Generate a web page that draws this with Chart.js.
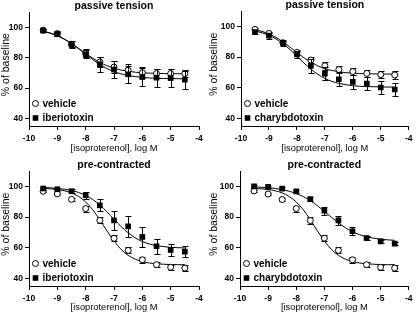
<!DOCTYPE html>
<html><head><meta charset="utf-8">
<script src="https://cdn.jsdelivr.net/npm/chart.js@4/dist/chart.umd.min.js"></script>
<style>
html,body{margin:0;padding:0;background:#fff;}
#wrap{position:relative;width:416px;height:313px;background:#fff;overflow:hidden}
canvas{position:absolute}
</style></head><body>
<div id="wrap">
<canvas id="c1" width="208" height="156" style="left:0px;top:0px"></canvas>
<canvas id="c2" width="208" height="156" style="left:208px;top:0px"></canvas>
<canvas id="c3" width="208" height="157" style="left:0px;top:156px"></canvas>
<canvas id="c4" width="208" height="157" style="left:208px;top:156px"></canvas>
</div>
<script>
// ---- data ----
const doseLogM = [-9.5, -9, -8.5, -8, -7.5, -7, -6.5, -6, -5.5, -5, -4.5];
const fitLogM = [-9.5, -9.25, -9, -8.75, -8.5, -8.25, -8, -7.75, -7.5, -7.25, -7, -6.75, -6.5, -6.25, -6, -5.75, -5.5, -5.25, -5, -4.75, -4.5];
const xTickValues = [-10, -9, -8, -7, -6, -5, -4];
const yTickValues = [40, 60, 80, 100];
const panelTitles = ['passive tension', 'passive tension', 'pre-contracted', 'pre-contracted'];
const vehicleLabel = 'vehicle';
const toxinLabels = ['iberiotoxin', 'charybdotoxin', 'iberiotoxin', 'charybdotoxin'];
const xAxisTitle = '[isoproterenol], log M';
const yAxisTitle = '% of baseline';

// panel 1: passive tension, iberiotoxin
const p1Vehicle    = [98.0, 95.8, 88.8, 83.0, 77.1, 73.8, 71.7, 70.1, 69.5, 69.5, 69.5];
const p1VehicleErr = [1, 1.5, 2, 2.5, 3, 4, 4, 3.5, 3, 3, 2.5];
const p1Toxin      = [97.8, 95.6, 88.6, 82.2, 75.6, 72.1, 69.0, 67.2, 66.8, 66.5, 65.5];
const p1ToxinErr   = [1, 1.5, 2, 2.5, 5, 5.5, 5.5, 6, 6, 6, 6];
const p1VehicleFit = [97.3, 96.0, 94.3, 92.0, 89.2, 86.0, 82.7, 79.6, 76.8, 74.7, 73.0, 71.8, 71.0, 70.4, 70.0, 69.8, 69.6, 69.5, 69.4, 69.4, 69.35];
const p1ToxinFit   = [97.4, 96.2, 94.5, 92.2, 89.3, 85.9, 82.3, 78.7, 75.5, 72.8, 70.8, 69.3, 68.2, 67.5, 67.0, 66.6, 66.4, 66.3, 66.2, 66.1, 66.1];

// panel 2: passive tension, charybdotoxin
const p2Vehicle    = [98.0, 95.4, 89.3, 83.0, 78.0, 74.3, 71.8, 70.5, 69.3, 68.5, 68.3];
const p2VehicleErr = [1, 1, 1.2, 1.5, 2, 2.5, 2.5, 2.5, 2.5, 2.5, 2.5];
const p2Toxin      = [96.3, 93.9, 89.3, 81.7, 74.2, 69.2, 65.5, 63.8, 62.7, 60.1, 58.8];
const p2ToxinErr   = [1.5, 2, 2, 2.5, 4.5, 4.5, 4.5, 4.5, 4.5, 4.5, 4.5];
const p2VehicleFit = [97.8, 96.7, 95.0, 92.8, 89.9, 86.5, 83.0, 79.5, 76.6, 74.2, 72.4, 71.2, 70.4, 69.8, 69.4, 69.2, 69.1, 69.0, 68.9, 68.9, 68.85];
const p2ToxinFit   = [96.9, 95.8, 94.1, 91.8, 88.7, 84.9, 80.5, 76.1, 72.1, 68.7, 66.0, 64.1, 62.8, 61.9, 61.3, 60.9, 60.7, 60.6, 60.5, 60.4, 60.4];

// panel 3: pre-contracted, iberiotoxin
const p3Vehicle    = [96.8, 95.1, 91.5, 85.5, 77.8, 66.1, 58.2, 52.1, 48.9, 47.2, 46.7];
const p3VehicleErr = [0.8, 0.8, 0.8, 2, 2, 2, 2, 1.8, 1.5, 1.8, 1.8];
const p3Toxin      = [98.6, 98.1, 96.8, 94.2, 87.6, 77.8, 73.9, 67.0, 60.9, 58.5, 57.4];
const p3ToxinErr   = [1, 1, 1.2, 2.2, 4, 6, 6.7, 6.5, 4.9, 3.9, 3.8];
const p3VehicleFit = [98.6, 98.4, 97.9, 97.1, 95.7, 93.4, 89.8, 84.7, 78.2, 71.0, 64.3, 58.9, 55.0, 52.5, 50.9, 50.0, 49.5, 49.2, 49.0, 48.9, 48.9];
const p3ToxinFit   = [99.2, 99.0, 98.6, 98.1, 97.3, 96.0, 94.1, 91.4, 87.8, 83.4, 78.5, 73.8, 69.7, 66.4, 64.0, 62.4, 61.3, 60.7, 60.2, 60.0, 59.8];

// panel 4: pre-contracted, charybdotoxin
const p4Vehicle    = [97.0, 95.0, 91.4, 85.5, 77.7, 66.2, 58.2, 52.1, 48.9, 47.2, 46.7];
const p4VehicleErr = [0.8, 0.8, 0.8, 2, 2, 2, 2, 1.8, 1.5, 1.8, 1.8];
const p4Toxin      = [100.0, 99.6, 98.5, 96.7, 91.7, 84.1, 77.8, 70.7, 66.3, 64.1, 62.6];
const p4ToxinErr   = [0.8, 0.8, 0.8, 1, 1.5, 2.5, 3, 2.5, 1.5, 1, 1];
const p4VehicleFit = [98.6, 98.4, 97.9, 97.1, 95.7, 93.4, 89.8, 84.7, 78.2, 71.0, 64.3, 58.9, 55.0, 52.5, 50.9, 50.0, 49.5, 49.2, 49.0, 48.9, 48.9];
const p4ToxinFit   = [99.6, 99.4, 99.1, 98.6, 97.9, 96.8, 95.3, 93.3, 90.6, 87.4, 83.6, 79.8, 76.2, 73.0, 70.4, 68.5, 67.1, 66.2, 65.5, 65.1, 64.8];

// ---- rendering ----
const FONT = "'Liberation Sans', Arial, Helvetica, sans-serif";
const pts = (xs, ys) => xs.map((x, i) => ({x: x, y: ys[i]}));

const errorBarPlugin = {
  id: 'errorBars',
  beforeDatasetDraw(chart, args) {
    const ds = chart.data.datasets[args.index];
    if (!ds.errorBars) return;
    const ctx = chart.ctx, xs = chart.scales.x, ys = chart.scales.y;
    ctx.save();
    ctx.strokeStyle = '#000';
    ctx.lineWidth = 1;
    ds.data.forEach((p, i) => {
      const e = ds.errorBars[i];
      const px = Math.round(xs.getPixelForValue(p.x)) + 0.5;
      const yt = Math.round(ys.getPixelForValue(p.y + e)) + 0.5;
      const yb = Math.round(ys.getPixelForValue(p.y - e)) + 0.5;
      ctx.beginPath();
      ctx.moveTo(px, yt); ctx.lineTo(px, yb);
      ctx.moveTo(px - 3, yt); ctx.lineTo(px + 3, yt);
      ctx.moveTo(px - 3, yb); ctx.lineTo(px + 3, yb);
      ctx.stroke();
    });
    ctx.restore();
  }
};

const insideLegendPlugin = {
  id: 'insideLegend',
  afterDraw(chart, args, opts) {
    const ctx = chart.ctx, a = chart.chartArea;
    const mx = a.left + 6.5;
    const rows = [a.bottom - 22.5, a.bottom - 8];
    ctx.save();
    ctx.font = 'bold 10px ' + FONT;
    ctx.textBaseline = 'middle';
    // open circle
    ctx.beginPath();
    ctx.arc(mx, rows[0], 3, 0, Math.PI * 2);
    ctx.fillStyle = '#fff'; ctx.fill();
    ctx.strokeStyle = '#000'; ctx.lineWidth = 1; ctx.stroke();
    // filled square
    ctx.fillStyle = '#000';
    ctx.fillRect(mx - 2.8, rows[1] - 2.8, 5.6, 5.6);
    ctx.fillText(opts.labels[0], mx + 7, rows[0] + 0.5);
    ctx.fillText(opts.labels[1], mx + 7, rows[1] + 0.5);
    ctx.restore();
  }
};

const panels = [
  {id: 'c1', v: p1Vehicle, ve: p1VehicleErr, t: p1Toxin, te: p1ToxinErr, vf: p1VehicleFit, tf: p1ToxinFit,
   pad: {left: 0, right: 9, top: 0, bottom: 0}, yw: 29, xh: 30, xtb: 1.5},
  {id: 'c2', v: p2Vehicle, ve: p2VehicleErr, t: p2Toxin, te: p2ToxinErr, vf: p2VehicleFit, tf: p2ToxinFit,
   pad: {left: 0, right: 4, top: -1, bottom: 0}, yw: 33, xh: 30, xtb: 1.5},
  {id: 'c3', v: p3Vehicle, ve: p3VehicleErr, t: p3Toxin, te: p3ToxinErr, vf: p3VehicleFit, tf: p3ToxinFit,
   pad: {left: 0, right: 9, top: 3, bottom: 0}, yw: 29, xh: 27, xtb: 0},
  {id: 'c4', v: p4Vehicle, ve: p4VehicleErr, t: p4Toxin, te: p4ToxinErr, vf: p4VehicleFit, tf: p4ToxinFit,
   pad: {left: 0, right: 5, top: 3, bottom: 0}, yw: 32, xh: 27, xtb: 0}
];

panels.forEach((p, k) => {
  new Chart(document.getElementById(p.id), {
    type: 'scatter',
    data: {
      datasets: [
        {label: vehicleLabel + ' fit', data: pts(fitLogM, p.vf), showLine: true, borderColor: '#000', borderWidth: 1,
         pointRadius: 0, cubicInterpolationMode: 'monotone', order: 10, fill: false},
        {label: toxinLabels[k] + ' fit', data: pts(fitLogM, p.tf), showLine: true, borderColor: '#000', borderWidth: 1,
         pointRadius: 0, cubicInterpolationMode: 'monotone', order: 9, fill: false},
        {label: vehicleLabel, data: pts(doseLogM, p.v), errorBars: p.ve, showLine: false, pointStyle: 'circle',
         pointRadius: 3, pointBorderWidth: 1, pointBackgroundColor: '#fff', pointBorderColor: '#000', order: 2},
        {label: toxinLabels[k], data: pts(doseLogM, p.t), errorBars: p.te, showLine: false, pointStyle: 'rect',
         pointRadius: 4, pointBorderWidth: 0, pointBackgroundColor: '#000', pointBorderColor: '#000', order: 1}
      ]
    },
    options: {
      responsive: false,
      animation: false,
      devicePixelRatio: 1,
      layout: {padding: p.pad},
      plugins: {
        legend: {display: false},
        tooltip: {enabled: false},
        title: {display: true, text: panelTitles[k], fullSize: false, color: '#000',
                font: {family: FONT, size: 10.5, weight: 'bold', lineHeight: '12px'}, padding: 0},
        insideLegend: {labels: [vehicleLabel, toxinLabels[k]]}
      },
      scales: {
        x: {
          type: 'linear', min: -10, max: -4,
          afterBuildTicks: s => { s.ticks = xTickValues.map(v => ({value: v})); },
          afterFit: s => { s.height = p.xh; },
          ticks: {color: '#000', font: {family: FONT, size: 8.5, weight: 'bold'}, padding: 3.5, maxRotation: 0, autoSkip: false,
                  callback: v => String(v)},
          grid: {drawOnChartArea: false, drawTicks: true, tickLength: 4, color: '#000', lineWidth: 1},
          border: {display: true, color: '#000', width: 1},
          title: {display: true, text: xAxisTitle, color: '#000', font: {family: FONT, size: 9.3}, padding: {top: 0, bottom: p.xtb}}
        },
        y: {
          type: 'linear', min: 35, max: 110,
          afterBuildTicks: s => { s.ticks = yTickValues.map(v => ({value: v})); },
          afterFit: s => { s.width = p.yw; },
          ticks: {color: '#000', font: {family: FONT, size: 8.5, weight: 'bold'}, padding: 2, autoSkip: false,
                  callback: v => String(v)},
          grid: {drawOnChartArea: false, drawTicks: true, tickLength: 4, color: '#000', lineWidth: 1},
          border: {display: true, color: '#000', width: 1},
          title: {display: true, text: '   ' + yAxisTitle, color: '#000', font: {family: FONT, size: 10.5}, padding: {top: 0, bottom: 0}}
        }
      }
    },
    plugins: [errorBarPlugin, insideLegendPlugin]
  });
});
</script>
</body></html>
